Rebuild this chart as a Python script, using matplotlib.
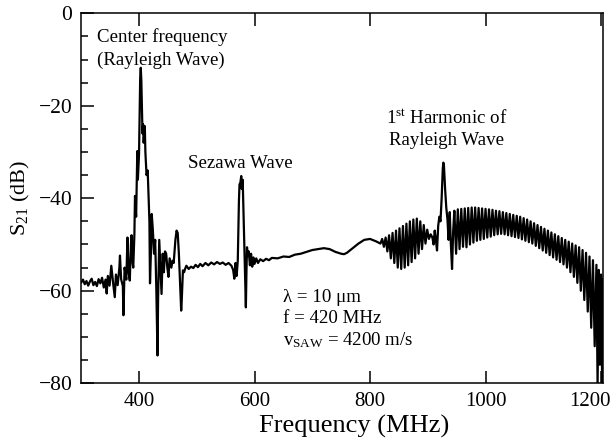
import numpy as np
import matplotlib.pyplot as plt
import matplotlib.transforms as mtransforms

plt.rcParams['font.family'] = ['Liberation Serif', 'DejaVu Serif']
plt.rcParams['mathtext.fontset'] = 'custom'
plt.rcParams['mathtext.rm'] = 'Liberation Serif'
plt.rcParams['mathtext.it'] = 'Liberation Serif:italic'

# S21 trace, split in three pieces
# 300-480 MHz: noisy baseline + Rayleigh (center frequency) response
freq_low = [300, 303, 306, 309, 312, 315, 318, 321, 324, 327, 330, 333, 336, 339,
            342, 344, 346, 349, 352, 355, 358, 360, 363, 366, 367, 369, 372, 373,
            375, 378, 380, 382, 384, 386, 387, 389, 390, 392, 393, 395, 397, 398,
            400, 401, 402, 403, 404, 405, 406, 407, 408, 410, 411, 413, 415, 416,
            418, 419, 421, 422, 424, 426, 428, 430, 432, 433, 435, 437, 439, 441,
            443, 445, 447, 449, 451, 453, 456, 458, 460, 463, 465, 467, 469, 471,
            473, 474, 476, 478, 480]
s21_low = [-58.2, -57.6, -58.6, -57.9, -58.9, -58.0, -57.4, -58.8, -58.1, -59.0,
           -57.5, -58.4, -57.2, -59.3, -57.6, -60.6, -56.8, -58.9, -54.6, -58.2,
           -61.4, -56.5, -58.8, -55.0, -52.4, -57.5, -59.0, -65.3, -55.0, -57.6,
           -48.5, -56.0, -57.8, -50.0, -48.0, -54.0, -55.0, -47.7, -39.5, -44.0,
           -29.8, -36.0, -30.5, -22.0, -14.0, -11.8, -14.5, -20.0, -26.0, -24.0,
           -28.0, -24.4, -30.0, -35.0, -34.0, -37.7, -45.0, -58.4, -50.0, -43.4,
           -47.0, -52.0, -49.0, -60.0, -74.0, -62.0, -49.0, -55.0, -60.7, -52.0,
           -56.0, -51.5, -52.0, -55.0, -57.0, -53.0, -55.0, -53.5, -54.0, -49.0,
           -47.0, -47.5, -52.0, -58.0, -64.3, -62.0, -55.6, -56.0, -55.2]

# 480-820 MHz: flat part with the Sezawa wave near 577 MHz
freq_mid = [482, 486, 490, 494, 498, 502, 506, 510, 515, 520, 525, 530, 535, 540,
            545, 550, 555, 560, 563, 565, 567, 569, 571, 573, 574, 575.5, 577, 578,
            579.5, 581, 582.5, 584, 585, 586, 587, 588, 590, 592, 594, 596, 598,
            600, 603, 606, 610, 615, 620, 625, 630, 640, 650, 660, 670, 680, 690,
            700, 710, 720, 730, 740, 750, 755, 760, 770, 780, 790, 800, 810, 818]
s21_mid = [-54.6, -55.3, -54.8, -55.1, -54.4, -54.9, -54.2, -54.7, -54.0, -54.5,
           -53.9, -54.3, -53.8, -54.2, -53.9, -54.4, -54.0, -54.6, -55.5, -57.4,
           -54.0, -56.8, -53.5, -40.5, -37.0, -36.6, -35.2, -38.0, -36.0, -43.4,
           -50.0, -58.0, -63.6, -56.0, -50.6, -52.5, -51.5, -54.5, -52.0, -54.8,
           -52.8, -54.2, -53.0, -54.0, -53.2, -53.6, -53.1, -53.4, -52.9, -53.0,
           -52.6, -52.7, -52.2, -52.0, -51.6, -51.2, -51.0, -50.8, -51.0, -51.6,
           -52.0, -52.1, -51.8, -50.8, -49.8, -49.0, -48.8, -49.3, -49.8]

# 820-1204 MHz: rippled passband with the 1st harmonic near 927 MHz
freq_high = [821, 824, 827, 830, 833, 836, 839, 842, 845, 848, 851, 854, 857, 860,
             863, 866, 869, 872, 875, 878, 881, 884, 887, 890, 893, 896, 899, 902,
             905, 908, 910, 912, 914, 916, 918, 920, 922, 924, 926, 927, 928, 930,
             932, 934, 936, 938, 940, 942, 944, 946,
             949, 952, 955, 958, 961, 964, 967, 970, 973, 976, 979, 982, 985, 988,
             991, 994, 997, 1000, 1003, 1006, 1009, 1012, 1015, 1018, 1021, 1024,
             1027, 1030, 1033, 1036, 1039, 1042, 1045, 1048, 1051, 1054, 1057, 1060,
             1063, 1066, 1069, 1072, 1075, 1078, 1081, 1084, 1087, 1090, 1093, 1096,
             1099, 1102, 1105, 1108, 1111, 1114, 1117, 1120, 1123, 1126, 1129, 1132,
             1135, 1138, 1141, 1144, 1147, 1150, 1153, 1156, 1159, 1162, 1165, 1168,
             1171, 1174, 1177, 1180, 1183, 1186, 1189, 1192, 1194, 1196, 1198, 1200,
             1202, 1204]
s21_high = [-48.8, -50.5, -48.5, -51.5, -48.0, -53.0, -47.5, -54.0, -47.0, -55.0,
            -46.5, -55.3, -46.0, -55.0, -45.5, -54.5, -45.0, -53.8, -44.6, -53.0,
            -44.4, -52.0, -45.0, -51.0, -45.8, -49.8, -46.8, -48.8, -47.8, -48.5,
            -50.0, -47.0, -49.0, -51.3, -46.0, -44.0, -45.0, -40.0, -33.5, -32.3,
            -33.0, -38.0, -42.0, -44.5, -49.0, -43.0, -50.0, -55.3, -47.0, -42.7,
            -52.0, -42.4, -51.0, -42.3, -50.5, -42.2, -50.6, -42.1, -50.0, -42.0,
            -49.6, -42.0, -49.2, -42.1, -49.0, -42.2, -48.8, -42.3, -48.5, -42.4,
            -48.3, -42.5, -48.0, -42.7, -47.8, -42.8, -47.7, -43.0, -47.8, -43.2,
            -48.0, -43.4, -48.2, -43.6, -48.4, -43.8, -48.6, -44.0, -48.9, -44.3,
            -49.2, -44.6, -49.5, -45.0, -49.8, -45.4, -50.3, -45.8, -50.8, -46.2,
            -51.3, -46.6, -51.8, -47.0, -52.3, -47.4, -52.8, -47.8, -53.3, -48.2,
            -53.8, -48.6, -54.3, -49.0, -55.0, -49.4, -56.0, -49.8, -57.0, -50.2,
            -58.3, -50.6, -60.0, -51.2, -62.0, -51.8, -64.5, -52.6, -68.0, -53.4,
            -72.0, -54.4, -80.5, -55.5, -76.0, -56.5, -81.0, -57.5]

freq = np.concatenate([freq_low, freq_mid, freq_high])
s21 = np.concatenate([s21_low, s21_mid, s21_high])

fig = plt.figure(figsize=(6.16, 4.42), dpi=100)
ax = fig.add_axes([0.131, 0.133, 0.848, 0.837])

ax.plot(freq, s21, c='black', lw=1.6)

ax.set_xlim(299, 1203.5)
ax.set_ylim(-80, 0)
ax.set_xticks([400, 600, 800, 1000, 1200])
ax.set_yticks([-80, -60, -40, -20, 0])
ax.set_yticks(np.arange(-75, 0, 5), minor=True)
ax.tick_params(axis='x', which='major', direction='in', top=True, length=9,
               width=1.1, labelsize=15, pad=6)
ax.tick_params(axis='y', which='major', direction='in', right=False, length=9,
               width=1.1, labelsize=15.5, pad=6)
ax.tick_params(axis='y', which='minor', direction='in', right=False, length=5,
               width=1.1)
for s in ax.spines.values():
    s.set_linewidth(1.1)

# last x label sits a bit left of its tick, as in the figure
shift = mtransforms.ScaledTranslation(-0.11, 0, fig.dpi_scale_trans)
lbl = ax.get_xticklabels()[-1]
lbl.set_transform(lbl.get_transform() + shift)

ax.set_xlabel('Frequency (MHz)', fontsize=19, labelpad=1)
ax.xaxis.set_label_coords(0.524, -0.085)
ax.set_ylabel('S$_{21}$ (dB)', fontsize=16, labelpad=5)

fs = 13.6
ax.text(326.8, -6.2, 'Center frequency', fontsize=fs)
ax.text(326.8, -11.2, '(Rayleigh Wave)', fontsize=fs)
ax.text(485, -33.5, 'Sezawa Wave', fontsize=fs)
ax.text(932, -23.8, '1$^{\\rm st}$ Harmonic of', fontsize=fs, ha='center')
ax.text(932, -28.5, 'Rayleigh Wave', fontsize=fs, ha='center')
ax.text(649, -62.4, 'λ = 10 μm', fontsize=fs)
ax.text(649, -67.0, 'f = 420 MHz', fontsize=fs)
ax.text(649, -71.7, 'v$_{\\rm SAW}$ = 4200 m/s', fontsize=fs)

fig.savefig('out.png', dpi=100)
